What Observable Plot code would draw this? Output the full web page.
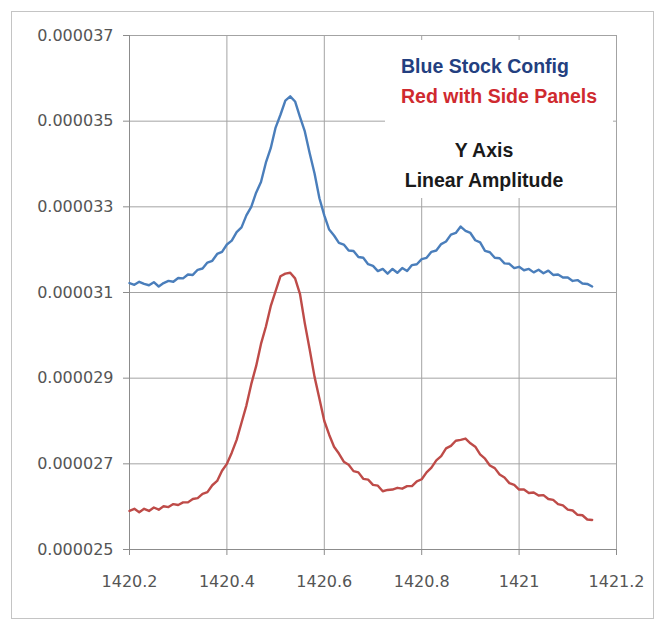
<!DOCTYPE html>
<html>
<head>
<meta charset="utf-8">
<script src="https://cdn.jsdelivr.net/npm/d3@7"></script>
<script src="https://cdn.jsdelivr.net/npm/@observablehq/plot@0.6"></script>
<style>
  html, body { margin: 0; padding: 0; background: #fff; }
  #wrap { position: relative; width: 663px; height: 620px; overflow: hidden; }
  #wrap svg { position: absolute; left: 0; top: 0; }
  #border { position: absolute; left: 11px; top: 11px; width: 641px; height: 606px; border: 1px solid #c4c4c4; pointer-events: none; }
  #legend { position: absolute; left: 385px; top: 40px; width: 228px; height: 158px; background: #fff;
            font-family: "Liberation Sans", Arial, sans-serif; font-weight: bold; font-size: 19.5px; }
  #legend div { position: absolute; line-height: 20px; white-space: nowrap; }
</style>
</head>
<body>
<div id="wrap">
  <div id="border"></div>
</div>
<script>
// Frequency (MHz)
const freq = [
 1420.20,1420.21,1420.22,1420.23,1420.24,1420.25,1420.26,1420.27,1420.28,1420.29,
 1420.30,1420.31,1420.32,1420.33,1420.34,1420.35,1420.36,1420.37,1420.38,1420.39,
 1420.40,1420.41,1420.42,1420.43,1420.44,1420.45,1420.46,1420.47,1420.48,1420.49,
 1420.50,1420.51,1420.52,1420.53,1420.54,1420.55,1420.56,1420.57,1420.58,1420.59,
 1420.60,1420.61,1420.62,1420.63,1420.64,1420.65,1420.66,1420.67,1420.68,1420.69,
 1420.70,1420.71,1420.72,1420.73,1420.74,1420.75,1420.76,1420.77,1420.78,1420.79,
 1420.80,1420.81,1420.82,1420.83,1420.84,1420.85,1420.86,1420.87,1420.88,1420.89,
 1420.90,1420.91,1420.92,1420.93,1420.94,1420.95,1420.96,1420.97,1420.98,1420.99,
 1421.00,1421.01,1421.02,1421.03,1421.04,1421.05,1421.06,1421.07,1421.08,1421.09,
 1421.10,1421.11,1421.12,1421.13,1421.14,1421.15
];
// Blue Stock Config (units of 1e-6)
const blueStock = [
 31.22,31.18,31.25,31.20,31.17,31.24,31.14,31.22,31.27,31.25,
 31.34,31.33,31.42,31.41,31.53,31.56,31.70,31.74,31.90,31.95,
 32.12,32.21,32.41,32.52,32.80,33.00,33.33,33.58,34.03,34.37,
 34.85,35.15,35.48,35.58,35.46,35.10,34.76,34.25,33.78,33.20,
 32.80,32.47,32.33,32.16,32.12,31.98,31.97,31.83,31.81,31.66,
 31.62,31.50,31.55,31.44,31.55,31.46,31.57,31.50,31.64,31.66,
 31.78,31.81,31.95,31.98,32.13,32.19,32.35,32.39,32.54,32.44,
 32.39,32.22,32.17,31.97,31.94,31.81,31.80,31.68,31.67,31.57,
 31.60,31.52,31.55,31.47,31.53,31.45,31.51,31.41,31.42,31.35,
 31.35,31.27,31.29,31.21,31.20,31.14
];
// Red with Side Panels (units of 1e-6)
const redSidePanels = [
 25.90,25.95,25.87,25.95,25.90,25.98,25.93,26.01,25.99,26.06,
 26.04,26.10,26.10,26.18,26.20,26.30,26.34,26.50,26.60,26.84,
 27.00,27.26,27.56,27.96,28.36,28.86,29.28,29.80,30.20,30.68,
 31.03,31.38,31.44,31.46,31.33,30.97,30.28,29.67,29.03,28.52,
 28.00,27.68,27.40,27.24,27.05,26.98,26.83,26.80,26.65,26.63,
 26.51,26.49,26.36,26.39,26.40,26.44,26.42,26.48,26.48,26.59,
 26.64,26.80,26.91,27.08,27.18,27.36,27.42,27.54,27.56,27.59,
 27.48,27.40,27.22,27.12,26.96,26.90,26.75,26.68,26.55,26.51,
 26.40,26.40,26.32,26.33,26.26,26.27,26.18,26.16,26.06,26.03,
 25.93,25.91,25.81,25.80,25.70,25.69
];
const xTicks = [1420.2, 1420.4, 1420.6, 1420.8, 1421, 1421.2];
const yTicks = [0.000025, 0.000027, 0.000029, 0.000031, 0.000033, 0.000035, 0.000037];
const seriesNames = ["Blue Stock Config", "Red with Side Panels"];
const seriesColors = ["#4a7ebb", "#be4b48"];

const rows = [];
freq.forEach((f, i) => {
  rows.push({series: seriesNames[0], f, v: blueStock[i] * 1e-6});
  rows.push({series: seriesNames[1], f, v: redSidePanels[i] * 1e-6});
});

const grid = "#a3a3a3";
const chart = Plot.plot({
  width: 663,
  height: 620,
  marginLeft: 129,
  marginRight: 47,
  marginTop: 35,
  marginBottom: 71,
  style: {fontFamily: "DejaVu Sans, sans-serif", fontSize: "16px", color: "#555555", background: "transparent", overflow: "visible"},
  x: {domain: [1420.2, 1421.2]},
  y: {domain: [0.000025, 0.000037]},
  color: {domain: seriesNames, range: seriesColors},
  marks: [
    Plot.gridX(xTicks, {stroke: grid, strokeOpacity: 1}),
    Plot.gridY(yTicks, {stroke: grid, strokeOpacity: 1}),
    Plot.axisX({ticks: xTicks, tickFormat: d => `${d}`, tickSize: 6, tickPadding: 20, stroke: "#8c8c8c", label: null}),
    Plot.axisY({ticks: yTicks, tickFormat: d3.format(".6f"), tickSize: 6, tickPadding: 10, stroke: "#8c8c8c", label: null}),
    Plot.ruleX([1420.2], {stroke: "#8c8c8c"}),
    Plot.ruleY([0.000025], {stroke: "#8c8c8c"}),
    Plot.line(rows, {x: "f", y: "v", z: "series", stroke: "series", strokeWidth: 2.4, curve: "linear"})
  ]
});
const wrap = document.getElementById("wrap");
wrap.insertBefore(chart, wrap.firstChild);

const legend = document.createElement("div");
legend.id = "legend";
legend.innerHTML = `
  <div style="left:16px; top:16px; color:#233f80">${seriesNames[0]}</div>
  <div style="left:16px; top:46px; color:#cf2a2f">${seriesNames[1]}</div>
  <div style="left:0; width:198px; text-align:center; top:100px; color:#1a1a1a">Y Axis</div>
  <div style="left:0; width:198px; text-align:center; top:130px; color:#1a1a1a">Linear Amplitude</div>`;
wrap.appendChild(legend);
</script>
</body>
</html>
